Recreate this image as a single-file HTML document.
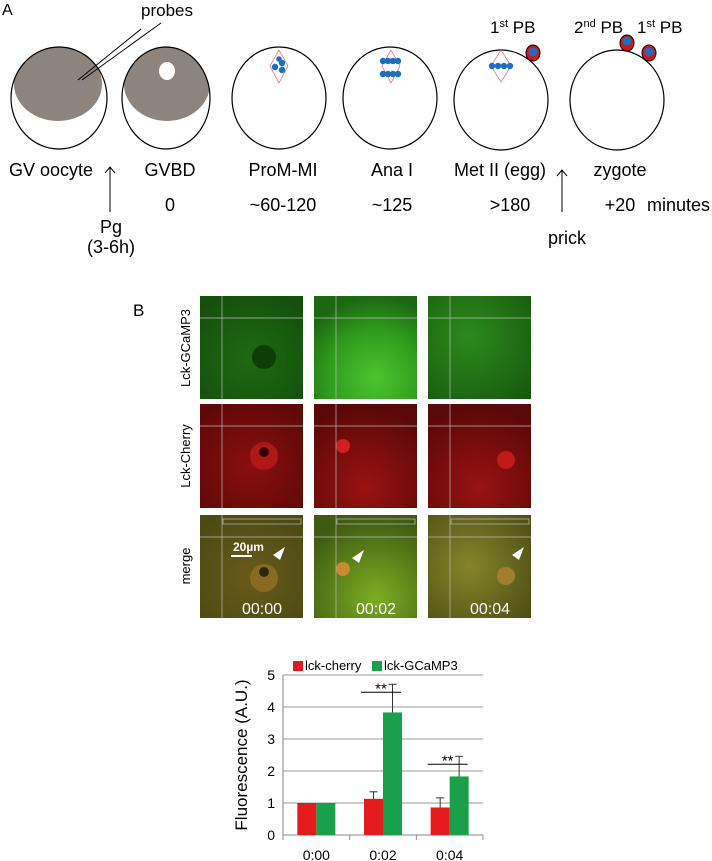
<!DOCTYPE html>
<html><head><meta charset="utf-8"><style>
body{margin:0;background:#fff;}
svg{display:block;font-family:"Liberation Sans",sans-serif;}
</style></head><body>
<svg width="712" height="861" viewBox="0 0 712 861">
<defs>
<radialGradient id="gA" cx="0.5" cy="0.6" r="0.7"><stop offset="0" stop-color="#1f6a12"/><stop offset="1" stop-color="#144f0c"/></radialGradient>
<radialGradient id="gB" cx="0.6" cy="0.8" r="0.8"><stop offset="0" stop-color="#4cc530"/><stop offset="0.6" stop-color="#2e9a1c"/><stop offset="1" stop-color="#1d6612"/></radialGradient>
<radialGradient id="gC" cx="0.4" cy="0.4" r="0.8"><stop offset="0" stop-color="#2c8a1c"/><stop offset="1" stop-color="#175a0e"/></radialGradient>
<radialGradient id="rA" cx="0.5" cy="0.6" r="0.7"><stop offset="0" stop-color="#8a0f0f"/><stop offset="1" stop-color="#5e0808"/></radialGradient>
<radialGradient id="rB" cx="0.5" cy="0.8" r="0.8"><stop offset="0" stop-color="#9a1212"/><stop offset="1" stop-color="#5a0808"/></radialGradient>
<radialGradient id="mA" cx="0.5" cy="0.6" r="0.7"><stop offset="0" stop-color="#6a5a1a"/><stop offset="1" stop-color="#4a4a12"/></radialGradient>
<radialGradient id="mB" cx="0.6" cy="0.8" r="0.8"><stop offset="0" stop-color="#7cae22"/><stop offset="1" stop-color="#3f5a12"/></radialGradient>
<radialGradient id="mC" cx="0.4" cy="0.5" r="0.8"><stop offset="0" stop-color="#86852a"/><stop offset="1" stop-color="#4a4a14"/></radialGradient>
<clipPath id="c1"><ellipse cx="59" cy="98" rx="48" ry="51"/></clipPath>
<clipPath id="c2"><ellipse cx="166" cy="98" rx="44" ry="51"/></clipPath>
</defs>

<!-- Panel A -->
<text x="2" y="15" font-size="16">A</text>
<text x="141" y="16" font-size="17">probes</text>
<g>
<ellipse cx="58" cy="84" rx="44" ry="37" fill="#8c847d" clip-path="url(#c1)"/>
<ellipse cx="59" cy="98" rx="48" ry="51" fill="none" stroke="#000" stroke-width="1.2"/>
<line x1="78" y1="80" x2="141" y2="29" stroke="#000"/><line x1="82" y1="80" x2="161" y2="23" stroke="#000"/>
<ellipse cx="167" cy="84" rx="43" ry="37" fill="#8c847d" clip-path="url(#c2)"/>
<ellipse cx="167" cy="71" rx="8" ry="9" fill="#fff"/>
<ellipse cx="166" cy="98" rx="44" ry="51" fill="none" stroke="#000" stroke-width="1.2"/>
<ellipse cx="279" cy="98" rx="47" ry="51" fill="none" stroke="#000" stroke-width="1.2"/>
<path d="M279 50 L270 66 L279 83 L288 66 Z" fill="none" stroke="#e44" stroke-width="0.6"/>
<circle cx="275" cy="67" r="3.2" fill="#1a6fbf"/><circle cx="282" cy="63" r="3.2" fill="#1a6fbf"/><circle cx="282" cy="70" r="3.2" fill="#1a6fbf"/><circle cx="279" cy="59" r="2.8" fill="#1a6fbf"/>
<ellipse cx="390" cy="98" rx="47" ry="51" fill="none" stroke="#000" stroke-width="1.2"/>
<path d="M391 50 L382 66 L391 83 L400 66 Z" fill="none" stroke="#e44" stroke-width="0.6"/>
<circle cx="383" cy="61" r="3.2" fill="#1a6fbf"/><circle cx="388" cy="61" r="3.2" fill="#1a6fbf"/><circle cx="393" cy="61" r="3.2" fill="#1a6fbf"/><circle cx="398" cy="61" r="3.2" fill="#1a6fbf"/>
<circle cx="383" cy="74" r="3.2" fill="#1a6fbf"/><circle cx="388" cy="74" r="3.2" fill="#1a6fbf"/><circle cx="393" cy="74" r="3.2" fill="#1a6fbf"/><circle cx="398" cy="74" r="3.2" fill="#1a6fbf"/>
<ellipse cx="501" cy="100" rx="47" ry="50" fill="none" stroke="#000" stroke-width="1.2"/>
<path d="M501 50 L491 66 L501 82 L511 66 Z" fill="none" stroke="#e44" stroke-width="0.6"/>
<circle cx="492" cy="66" r="3.2" fill="#1a6fbf"/><circle cx="498" cy="66" r="3.2" fill="#1a6fbf"/><circle cx="504" cy="66" r="3.2" fill="#1a6fbf"/><circle cx="510" cy="66" r="3.2" fill="#1a6fbf"/>
<ellipse cx="533" cy="53" rx="7" ry="8" fill="#d11" stroke="#000"/><circle cx="533" cy="52" r="4.5" fill="#1a6fbf"/>
<ellipse cx="617" cy="100" rx="47" ry="50" fill="none" stroke="#000" stroke-width="1.2"/>
<ellipse cx="627" cy="43" rx="7" ry="8" fill="#d11" stroke="#000"/><circle cx="627" cy="41" r="4.5" fill="#1a6fbf"/>
<ellipse cx="649" cy="53" rx="7" ry="8" fill="#d11" stroke="#000"/><circle cx="649" cy="52" r="4.5" fill="#1a6fbf"/>
</g>
<text x="490" y="33" font-size="17">1<tspan font-size="11" dy="-6">st</tspan><tspan dy="6"> PB</tspan></text>
<text x="574" y="33" font-size="17">2<tspan font-size="11" dy="-6">nd</tspan><tspan dy="6"> PB</tspan></text>
<text x="637" y="33" font-size="17">1<tspan font-size="11" dy="-6">st</tspan><tspan dy="6"> PB</tspan></text>
<g font-size="18" text-anchor="middle">
<text x="51" y="176">GV oocyte</text><text x="170" y="176">GVBD</text><text x="283" y="176">ProM-MI</text>
<text x="392" y="176">Ana I</text><text x="500" y="176">Met II (egg)</text><text x="620" y="176">zygote</text>
<text x="170" y="211">0</text><text x="283" y="211">~60-120</text><text x="392" y="211">~125</text><text x="510" y="211">&gt;180</text><text x="620" y="211">+20</text>
<text x="647" y="211" text-anchor="start">minutes</text>
<text x="111" y="233">Pg</text><text x="111" y="253">(3-6h)</text><text x="567" y="244">prick</text>
</g>
<path d="M110 212 V167 M105 173 L110 167 L115 173" fill="none" stroke="#000"/>
<path d="M562 212 V170 M557 176 L562 170 L567 176" fill="none" stroke="#000"/>

<!-- Panel B -->
<text x="133" y="316" font-size="17">B</text>
<g font-size="13" text-anchor="middle">
<text transform="translate(190,348) rotate(-90)">Lck-GCaMP3</text>
<text transform="translate(190,456) rotate(-90)">Lck-Cherry</text>
<text transform="translate(190,566) rotate(-90)">merge</text>
</g>
<g>
<rect x="200" y="296" width="103" height="103" fill="url(#gA)"/>
<rect x="314" y="296" width="103" height="103" fill="url(#gB)"/>
<rect x="428" y="296" width="103" height="103" fill="url(#gC)"/>
<rect x="200" y="404" width="103" height="104" fill="url(#rA)"/>
<rect x="314" y="404" width="103" height="104" fill="url(#rB)"/>
<rect x="428" y="404" width="103" height="104" fill="url(#rB)"/>
<rect x="200" y="515" width="103" height="103" fill="url(#mA)"/>
<rect x="314" y="515" width="103" height="103" fill="url(#mB)"/>
<rect x="428" y="515" width="103" height="103" fill="url(#mC)"/>
<circle cx="264" cy="357" r="12" fill="#0e3e08"/>
<circle cx="264" cy="456" r="14" fill="#b01818"/><circle cx="264" cy="452" r="5" fill="#300"/>
<circle cx="264" cy="578" r="14" fill="#8a6a22"/><circle cx="264" cy="572" r="5" fill="#2a2a08"/>
<circle cx="343" cy="446" r="7" fill="#d02020"/><circle cx="343" cy="569" r="7" fill="#c98a30"/>
<circle cx="506" cy="460" r="9" fill="#c01a1a"/><circle cx="506" cy="576" r="9" fill="#a08030"/>
<g stroke="#bbb" stroke-width="0.7" fill="none">
<line x1="222" y1="296" x2="222" y2="399"/><line x1="200" y1="318" x2="303" y2="318"/>
<line x1="336" y1="296" x2="336" y2="399"/><line x1="314" y1="318" x2="417" y2="318"/>
<line x1="450" y1="296" x2="450" y2="399"/><line x1="428" y1="318" x2="531" y2="318"/>
<line x1="222" y1="404" x2="222" y2="508"/><line x1="200" y1="426" x2="303" y2="426"/>
<line x1="336" y1="404" x2="336" y2="508"/><line x1="314" y1="426" x2="417" y2="426"/>
<line x1="450" y1="404" x2="450" y2="508"/><line x1="428" y1="426" x2="531" y2="426"/>
<line x1="222" y1="515" x2="222" y2="618"/><line x1="200" y1="537" x2="303" y2="537"/>
<line x1="336" y1="515" x2="336" y2="618"/><line x1="314" y1="537" x2="417" y2="537"/>
<line x1="450" y1="515" x2="450" y2="618"/><line x1="428" y1="537" x2="531" y2="537"/>
<rect x="223" y="519" width="78" height="5"/><rect x="337" y="519" width="78" height="5"/><rect x="451" y="519" width="78" height="5"/>
</g>
</g>
<text x="233" y="551" font-size="12" fill="#fff" font-weight="bold">20µm</text>
<line x1="231" y1="556" x2="252" y2="556" stroke="#fff" stroke-width="2"/>
<path d="M273 555 L285 547 L280 560 Z" fill="#fff"/><path d="M352 558 L364 550 L359 563 Z" fill="#fff"/><path d="M512 555 L524 547 L519 560 Z" fill="#fff"/>
<g font-size="16" fill="#fff" text-anchor="middle">
<text x="262" y="614">00:00</text><text x="376" y="614">00:02</text><text x="490" y="614">00:04</text></g>

<!-- Chart -->
<g id="chart"></g>
<text transform="translate(247,755) rotate(-90)" text-anchor="middle" font-size="17">Fluorescence (A.U.)</text>
<rect x="293" y="661" width="10" height="10" fill="#e41a1c"/>
<text x="305" y="670" font-size="13">lck-cherry</text>
<rect x="372" y="661" width="10" height="10" fill="#1aa04a"/>
<text x="384" y="670" font-size="13">lck-GCaMP3</text>
</svg>
<script>
const categories = ["0:00","0:02","0:04"];
const cherry = [1, 1.13, 0.86];
const cherryErr = [0, 0.22, 0.3];
const gcamp = [1, 3.83, 1.83];
const gcampErr = [0, 0.88, 0.63];
const yTicks = [0,1,2,3,4,5];
const sigLabels = ["", "**", "**"];
const NS = "http://www.w3.org/2000/svg";
const g = document.getElementById("chart");
const X0 = 283, X1 = 483, Y0 = 835, YTOP = 675, YMAX = 5;
const y = v => Y0 - v / YMAX * (Y0 - YTOP);
const band = (X1 - X0) / categories.length;
const cx = i => X0 + band * (i + 0.5);
function mk(tag, attrs, parent) {
  const e = document.createElementNS(NS, tag);
  for (const k in attrs) e.setAttribute(k, attrs[k]);
  (parent || g).appendChild(e);
  return e;
}
yTicks.forEach(t => {
  const l = mk("line", {x1: X0, x2: X1, y1: y(t), y2: y(t), stroke: t === 0 ? "#888" : "#999", "stroke-width": 1});
  
  
  const tx = mk("text", {x: X0 - 8, y: y(t) + 5, "text-anchor": "end", "font-size": 14, "font-family": "Liberation Sans, sans-serif"});
  tx.textContent = t;
  
  
});
mk("line", {x1: X0, x2: X0, y1: YTOP, y2: Y0, stroke: "#888"});
for (let i = 0; i <= categories.length; i++) mk("line", {x1: X0 + band * i, x2: X0 + band * i, y1: Y0, y2: Y0 + 5, stroke: "#888"});
const bw = 19;
categories.forEach((c, i) => {
  const series = [[cherry, cherryErr, "#e41a1c", -bw], [gcamp, gcampErr, "#1aa04a", 0]];
  series.forEach(([vals, errs, col, off]) => {
    const x = cx(i) + off;
    const b = mk("rect", {x: x, y: y(vals[i]), width: bw, height: Y0 - y(vals[i]), fill: col});
    
    
    if (errs[i] > 0) {
      const mx = x + bw / 2;
      mk("line", {x1: mx, x2: mx, y1: y(vals[i]), y2: y(vals[i] + errs[i]), stroke: "#333"});
      mk("line", {x1: mx - 4, x2: mx + 4, y1: y(vals[i] + errs[i]), y2: y(vals[i] + errs[i]), stroke: "#333"});
    }
  });
  if (sigLabels[i]) {
    const top = Math.max(cherry[i] + cherryErr[i], gcamp[i] + gcampErr[i]);
    const yy = y(top) + 8;
    mk("line", {x1: cx(i) - 22, x2: cx(i) + 18, y1: yy, y2: yy, stroke: "#000"});
    const s = mk("text", {x: cx(i) - 2, y: yy + 1, "text-anchor": "middle", "font-size": 15, "font-family": "Liberation Sans, sans-serif"});
    s.textContent = sigLabels[i];
    
    
  }
  const lab = mk("text", {x: cx(i), y: Y0 + 25, "text-anchor": "middle", "font-size": 14, "font-family": "Liberation Sans, sans-serif"});
  lab.textContent = c;
  
  
});
</script>
</body></html>
